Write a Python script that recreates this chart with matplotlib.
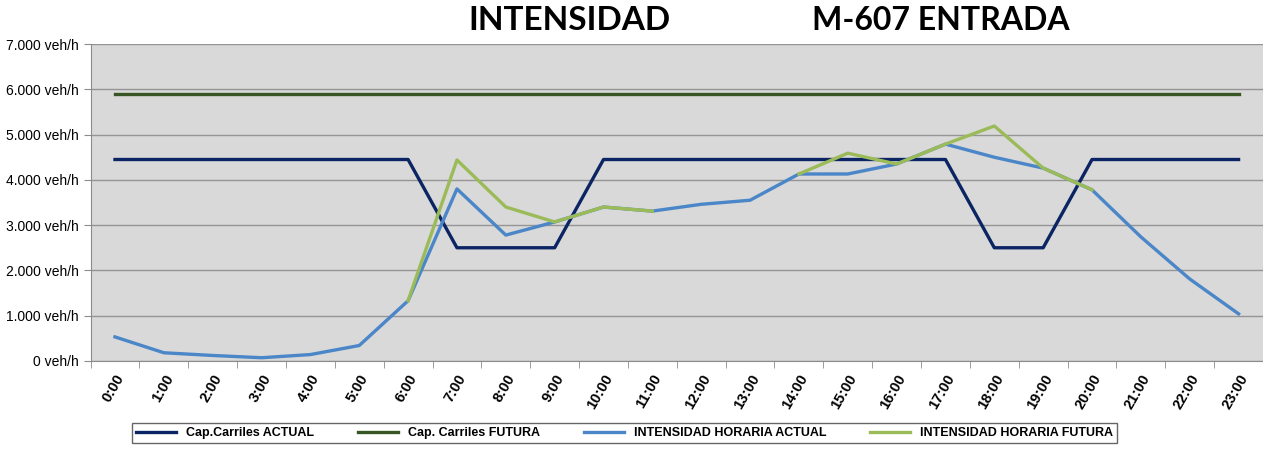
import numpy as np
import matplotlib.pyplot as plt
from matplotlib.ticker import FuncFormatter

# datos
horas = ['%d:00' % h for h in range(24)]
cap_actual = [4450, 4450, 4450, 4450, 4450, 4450, 4450, 2500, 2500, 2500, 4450, 4450,
              4450, 4450, 4450, 4450, 4450, 4450, 2500, 2500, 4450, 4450, 4450, 4450]
cap_futura = [5900] * 24
int_actual = [530, 180, 120, 70, 140, 340, 1330, 3800, 2780, 3070, 3400, 3310,
              3460, 3550, 4130, 4130, 4350, 4790, 4500, 4260, 3780, 2740, 1810, 1040]
nan = np.nan
int_futura = [nan, nan, nan, nan, nan, nan, 1330, 4440, 3400, 3070, 3400, 3310,
              nan, nan, 4130, 4590, 4350, 4790, 5190, 4260, 3780, nan, nan, nan]

x = np.arange(len(horas))

fig = plt.figure(figsize=(12.63, 4.5), dpi=100)
ax = fig.add_axes([0.0717, 0.198, 0.9283, 0.704])
ax.set_facecolor('#d9d9d9')

ax.plot(x, cap_actual, color='#0b2463', lw=2.4, label='Cap.Carriles ACTUAL', zorder=3)
ax.plot(x, cap_futura, color='#375623', lw=2.4, label='Cap. Carriles FUTURA', zorder=3)
ax.plot(x, int_actual, color='#4a86c8', lw=2.4, label='INTENSIDAD HORARIA ACTUAL', zorder=3)
ax.plot(x, int_futura, color='#9bbb59', lw=2.4, label='INTENSIDAD HORARIA FUTURA', zorder=3)

ax.set_xlim(-0.5, 23.5)
ax.set_ylim(0, 7000)
ax.set_yticks(range(0, 7001, 1000))
ax.yaxis.set_major_formatter(FuncFormatter(lambda v, p: '{:,.0f} veh/h'.format(v).replace(',', '.')))
ax.yaxis.grid(True, color='#959595', lw=1)
ax.set_axisbelow(True)

ax.set_xticks(x)
ax.set_xticklabels(horas, rotation=60, ha='right', rotation_mode='anchor',
                   fontweight='bold', fontsize=10.5, family='Liberation Sans')
ax.set_xticks(np.arange(-0.5, 24, 1), minor=True)
ax.tick_params(axis='x', which='major', length=0, pad=8)
ax.tick_params(axis='x', which='minor', length=5, color='#8c8c8c')
ax.tick_params(axis='y', length=5, color='#8c8c8c', labelsize=10)
for lab in ax.get_yticklabels():
    lab.set_family('Liberation Sans')

for s in ['top', 'right']:
    ax.spines[s].set_visible(False)
ax.spines['left'].set_color('#8c8c8c')
ax.spines['bottom'].set_color('#8c8c8c')

leg = fig.legend(loc='center', bbox_to_anchor=(0.4945, 0.038), ncol=4, frameon=True,
                 fancybox=False, edgecolor='#404040', handlelength=3.2, columnspacing=3.5,
                 prop={'family': ['Liberation Sans Narrow', 'Liberation Sans'], 'size': 9, 'weight': 'bold'},
                 borderpad=0.35)
leg.get_frame().set_linewidth(1)

fig.text(0.451, 0.955, 'INTENSIDAD', ha='center', va='center', fontsize=24,
         fontweight='bold', family=['Lato', 'DejaVu Sans'])
fig.text(0.745, 0.955, 'M-607 ENTRADA', ha='center', va='center', fontsize=23,
         fontweight='bold', family=['Lato', 'DejaVu Sans'])

fig.savefig('out.png', dpi=100)
